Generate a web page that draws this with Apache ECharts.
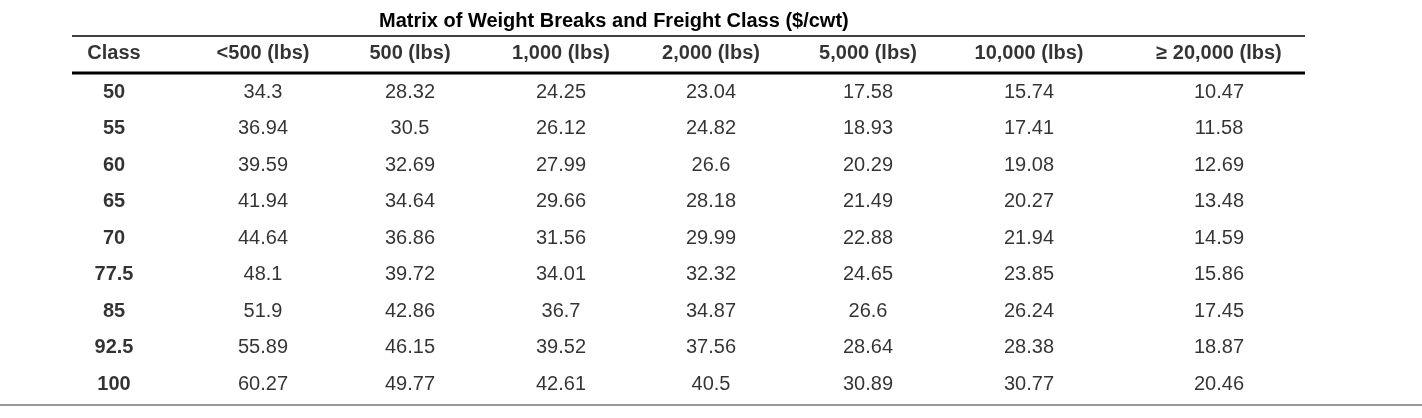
<!DOCTYPE html>
<html>
<head>
<meta charset="utf-8">
<script src="https://cdn.jsdelivr.net/npm/echarts@6/dist/echarts.min.js"></script>
<style>html,body{margin:0;padding:0;background:#fff}#chart{width:1422px;height:418px}</style>
</head>
<body>
<div id="chart"></div>
<script>
var title = 'Matrix of Weight Breaks and Freight Class ($/cwt)';
var headers = ['Class', '<500 (lbs)', '500 (lbs)', '1,000 (lbs)', '2,000 (lbs)', '5,000 (lbs)', '10,000 (lbs)', '\u2265 20,000 (lbs)'];
var classes = ['50', '55', '60', '65', '70', '77.5', '85', '92.5', '100'];
var lt500 = ['34.3', '36.94', '39.59', '41.94', '44.64', '48.1', '51.9', '55.89', '60.27'];
var w500 = ['28.32', '30.5', '32.69', '34.64', '36.86', '39.72', '42.86', '46.15', '49.77'];
var w1000 = ['24.25', '26.12', '27.99', '29.66', '31.56', '34.01', '36.7', '39.52', '42.61'];
var w2000 = ['23.04', '24.82', '26.6', '28.18', '29.99', '32.32', '34.87', '37.56', '40.5'];
var w5000 = ['17.58', '18.93', '20.29', '21.49', '22.88', '24.65', '26.6', '28.64', '30.89'];
var w10000 = ['15.74', '17.41', '19.08', '20.27', '21.94', '23.85', '26.24', '28.38', '30.77'];
var w20000 = ['10.47', '11.58', '12.69', '13.48', '14.59', '15.86', '17.45', '18.87', '20.46'];

// column centre positions (pixels across the page)
var colX = [114, 263, 410, 561, 711, 868, 1029, 1219];

var columns = [classes, lt500, w500, w1000, w2000, w5000, w10000, w20000];
var rowCats = ['header'].concat(classes);

var headerData = headers.map(function (h, c) { return [colX[c], 'header', h]; });
var classData = [], cellData = [];
columns.forEach(function (col, c) {
  col.forEach(function (v, r) {
    (c === 0 ? classData : cellData).push([colX[c], classes[r], v]);
  });
});

var font = 'Liberation Sans, Arial, sans-serif';
function labelSeries(data, bold, dy) {
  return {
    type: 'scatter', data: data, symbolSize: 0, silent: true,
    label: {
      show: true, position: 'inside', offset: [0, dy || 0],
      formatter: function (p) { return p.value[2]; },
      fontFamily: font, fontSize: 20, color: '#000',
      fontWeight: bold ? 'bold' : 'normal'
    }
  };
}

var chart = echarts.init(document.getElementById('chart'));
chart.setOption({
  animation: false,
  title: {
    text: title, left: 374, top: 6,
    textStyle: { fontFamily: font, fontSize: 20, fontWeight: 'bold', color: '#000' }
  },
  grid: { left: 0, right: 0, top: 37.5, height: 365 },
  xAxis: { type: 'value', min: 0, max: 1422, show: false },
  yAxis: { type: 'category', data: rowCats, inverse: true, show: false },
  series: [
    labelSeries(headerData, true, -2),
    labelSeries(classData, true),
    labelSeries(cellData, false)
  ],
  graphic: [
    { type: 'line', shape: { x1: 72, y1: 36, x2: 1305, y2: 36 }, style: { stroke: '#000', lineWidth: 1.5 } },
    { type: 'line', shape: { x1: 72, y1: 73, x2: 1305, y2: 73 }, style: { stroke: '#000', lineWidth: 3 } },
    { type: 'line', shape: { x1: 0, y1: 405, x2: 1422, y2: 405 }, style: { stroke: '#999', lineWidth: 2 } }
  ]
});
</script>
</body>
</html>
